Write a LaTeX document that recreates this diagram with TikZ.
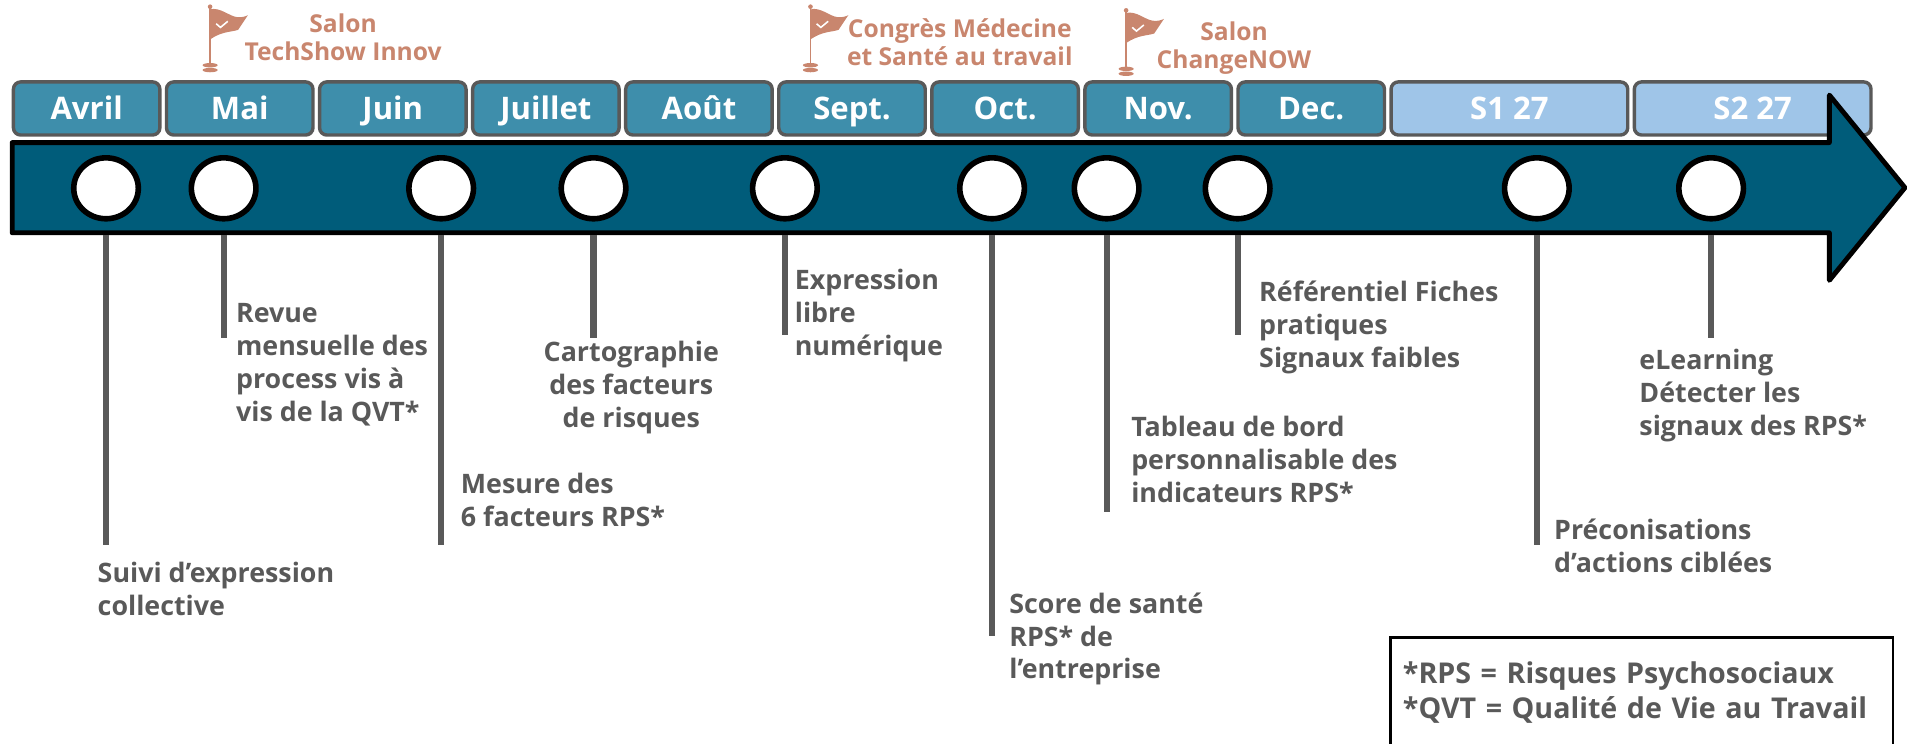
\documentclass[tikz,border=0pt]{standalone}
\usepackage{fontspec}
\setmainfont{Open Sans}
\usetikzlibrary{matrix, positioning, shapes.geometric}
\definecolor{monthblue}{HTML}{3E8EAB}
\definecolor{semblue}{HTML}{9FC5E8}
\definecolor{bandblue}{HTML}{005C7A}
\definecolor{textgrey}{HTML}{595959}
\definecolor{eventred}{HTML}{C9866E}
\tikzset{
  months/.style={
    matrix of nodes,
    column sep=2.6pt,
    inner sep=0pt,
    nodes={rectangle, rounded corners=6pt, draw=textgrey, line width=2.8pt, fill=monthblue,
      text=white, font=\fontsize{25.5}{30}\selectfont\bfseries, inner sep=0pt,
      minimum width=120.2pt, minimum height=43.6pt, text height=18.5pt, text depth=0pt},
    column 10/.style={nodes={fill=semblue, minimum width=194.2pt}},
    column 11/.style={nodes={fill=semblue, minimum width=194.2pt}},
  },
  band/.style={draw=black, line width=4pt, fill=bandblue, line join=round},
  dot/.style={ellipse, draw=black, line width=4.6pt, fill=white, minimum width=53pt, minimum height=50pt},
  stem/.style={draw=textgrey, line width=5pt},
  descr/.style={align=left, inner sep=0pt, text=textgrey, font=\fontsize{22}{27}\selectfont\bfseries},
  event/.style={align=center, inner sep=0pt, text=eventred, font=\fontsize{20.2}{23}\selectfont\bfseries},
  legendbox/.style={draw=black, line width=2.2pt, align=left, text width=392pt, inner xsep=10pt, inner ysep=20pt,
    text=textgrey, font=\fontsize{23.5}{28.5}\selectfont\bfseries}
}
% flag icon, #1 = foot of the pole
\newcommand{\flagmark}[1]{%
  \begin{scope}[shift={#1}]
    \fill[eventred] (0,0) ellipse (6.2pt and 1.8pt);
    \fill[eventred] (0,-4) ellipse (6.2pt and 1.8pt);
    \draw[eventred, line width=1.6pt] (0,-4) -- (0,-51);
    \fill[eventred] (0,-52) circle (1.9pt);
    \fill[eventred] (0,-49.8) .. controls (8,-52) and (16,-44) .. (22,-43.5)
      .. controls (26,-43) and (29,-44) .. (31,-45) -- (23,-33)
      .. controls (17,-31) and (10,-32) .. (0,-25.2) -- cycle;
    \draw[white, line width=1.3pt] (5,-38) -- (8.5,-35) -- (14.5,-40);
  \end{scope}}

\begin{document}
\begin{tikzpicture}[x=1pt, y=-1pt]
  \useasboundingbox (0,0) rectangle (1568,610);
  \matrix (month) [months, anchor=north west] at (9.4,65.6) {
    Avril & Mai & Juin & Juillet & Août & Sept. & Oct. & Nov. & Dec. & S1 27 & S2 27 \\
  };
  \draw[band] (10,117) -- (1501,117) -- (1501,78) -- (1563,154) -- (1501,230) -- (1501,191) -- (10,191) -- cycle;
  \coordinate (bandbottom) at (0,193);

  \foreach \name/\x/\y in {suivi/87/447, revue/183.5/277, mesure/362/447, carto/487/277, expr/644/275,
      score/814/522, tableau/908/420.5, referentiel/1015.5/275, preco/1261/447, elearning/1404/277} {
    \node[dot] (\name) at (\x,154.5) {};
    \coordinate (\name-end) at (\x,\y);
    \draw[stem] (\name |- bandbottom) -- (\name-end);
  }

  \node[descr, anchor=north west] (suivi-txt) at (80,461) {Suivi d’expression\\collective};
  \node[descr, anchor=north west] (revue-txt) at (193.5,249) {Revue\\mensuelle des\\process vis à\\vis de la QVT*};
  \node[descr, anchor=north west] (mesure-txt) at (378,388) {Mesure des\\6 facteurs RPS*};
  \node[descr, align=center, anchor=north] (carto-txt) at (518,280) {Cartographie\\des facteurs\\de risques};
  \node[descr, anchor=north west] (expr-txt) at (652,221) {Expression\\libre\\numérique};
  \node[descr, anchor=north west] (score-txt) at (828,486) {Score de santé\\RPS* de\\l’entreprise};
  \node[descr, anchor=north west] (tableau-txt) at (928,341) {Tableau de bord\\personnalisable des\\indicateurs RPS*};
  \node[descr, anchor=north west] (referentiel-txt) at (1033,230.5) {Référentiel Fiches\\pratiques\\Signaux faibles};
  \node[descr, anchor=north west] (preco-txt) at (1275,426) {Préconisations\\d’actions ciblées};
  \node[descr, anchor=north west] (elearning-txt) at (1345,286.5) {eLearning\\Détecter les\\signaux des RPS*};

  \flagmark{(172.4,57.5)}
  \flagmark{(665,57.5)}
  \flagmark{(924,60.5)}
  \node[event, anchor=north] (techshow) at (281.5,11.5) {Salon\\TechShow Innov};
  \node[event, anchor=north] (congres) at (787.5,14.7) {Congrès Médecine\\et Santé au travail};
  \node[event, anchor=north] (changenow) at (1012.5,17.5) {Salon\\ChangeNOW};

  \node[legendbox, anchor=north west] (legend) at (1140,522) {*RPS = Risques Psychosociaux\\{}*QVT = Qualité de Vie au Travail};
\end{tikzpicture}
\end{document}
